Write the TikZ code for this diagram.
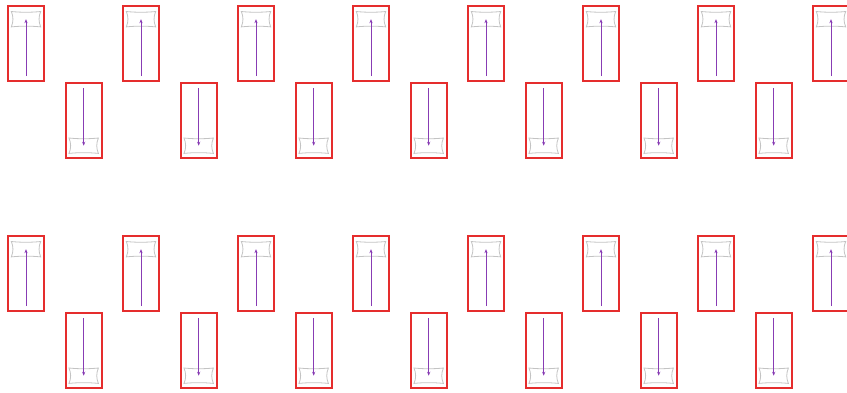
\documentclass[tikz,border=0pt]{standalone}
\usetikzlibrary{arrows.meta,calc}
\definecolor{boxred}{RGB}{229,45,45}
\definecolor{arrowpurple}{RGB}{136,60,180}
\definecolor{slotgrey}{RGB}{195,195,195}
\tikzset{
  frame/.style={draw=boxred, line width=1.6pt, minimum width=36pt, minimum height=75pt, inner sep=0pt},
  slot/.style={minimum width=29pt, minimum height=15pt, inner sep=0pt},
  slotline/.style={draw=slotgrey, line width=0.8pt},
  flow/.style={draw=arrowpurple, line width=0.8pt, -{Stealth[length=4pt,width=3.2pt]}}
}
\newcommand{\concave}[1]{%
  \draw[slotline] (#1.north west)
    .. controls ($(#1.north west)!0.33!(#1.north east)+(0,1)$) and ($(#1.north west)!0.67!(#1.north east)+(0,1)$) .. (#1.north east)
    .. controls ($(#1.north east)!0.33!(#1.south east)+(-2.2,0)$) and ($(#1.north east)!0.67!(#1.south east)+(-2.2,0)$) .. (#1.south east)
    .. controls ($(#1.south east)!0.33!(#1.south west)+(0,-1)$) and ($(#1.south east)!0.67!(#1.south west)+(0,-1)$) .. (#1.south west)
    .. controls ($(#1.south west)!0.33!(#1.north west)+(2.2,0)$) and ($(#1.south west)!0.67!(#1.north west)+(2.2,0)$) .. cycle;}
\begin{document}
\begin{tikzpicture}[x=1pt,y=-1pt]
\useasboundingbox (0,0) rectangle (847,392);
\foreach \r/\dy in {0/0,1/230}{
  \foreach \i in {0,...,7}{
    \pgfmathsetmacro{\cx}{26+115*\i}
    \node[frame] (t\r-\i) at (\cx,43.7+\dy) {};
    \node[slot] (ts\r-\i) at (\cx,19.2+\dy) {};
    \concave{ts\r-\i}
    \coordinate (ta\r-\i) at (\cx,76+\dy);
    \draw[flow] (ta\r-\i) -- (ts\r-\i.center);
  }
  \foreach \i in {0,...,6}{
    \pgfmathsetmacro{\cx}{83.7+115*\i}
    \node[frame] (b\r-\i) at (\cx,120.5+\dy) {};
    \node[slot] (bs\r-\i) at (\cx,145.7+\dy) {};
    \concave{bs\r-\i}
    \coordinate (ba\r-\i) at (\cx,88+\dy);
    \draw[flow] (ba\r-\i) -- (bs\r-\i.center);
  }
}
\end{tikzpicture}
\end{document}
